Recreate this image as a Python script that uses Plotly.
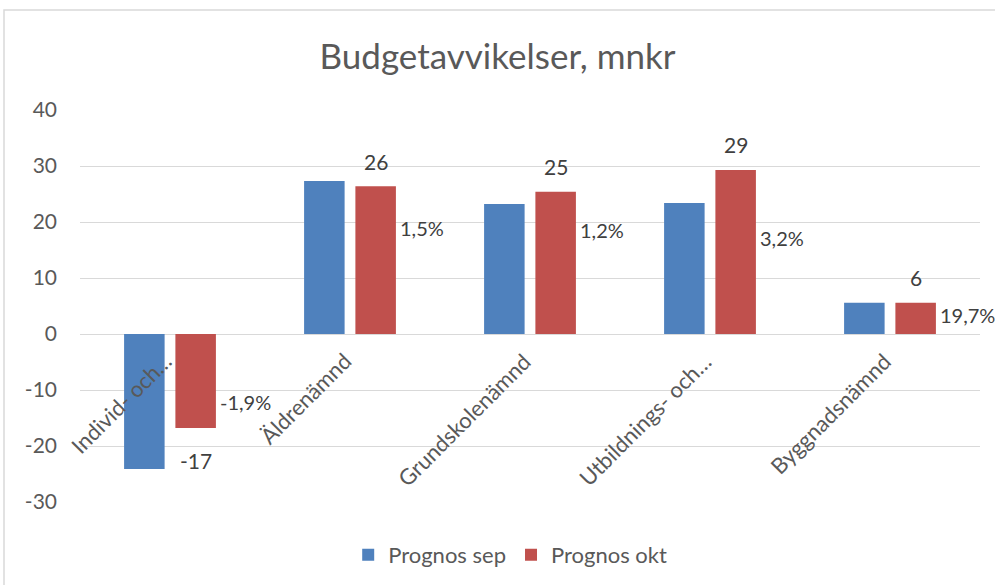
import plotly.graph_objects as go

categories = ["Individ- och…", "Äldrenämnd", "Grundskolenämnd", "Utbildnings- och…", "Byggnadsnämnd"]
prognos_sep = [-24.1, 27.3, 23.2, 23.4, 5.6]
prognos_okt = [-16.8, 26.4, 25.4, 29.3, 5.6]
pct_labels = ["-1,9%", "1,5%", "1,2%", "3,2%", "19,7%"]
y_ticks = [-30, -20, -10, 0, 10, 20, 30, 40]
y_tick_labels = ["-30", "-20", "-10", "0", "10", "20", "30", "40"]

# label placement (layout only)
pct_label_y = [-12.1, 18.9, 18.6, 17.1, 3.4]

BLUE = "#4F81BD"
RED = "#C0504D"
TXT = "#595959"
FONT = "Lato"

fig = go.Figure()
fig.add_trace(go.Bar(x=categories, y=prognos_sep, name="Prognos sep",
                     marker=dict(color=BLUE, line=dict(width=0))))
fig.add_trace(go.Bar(x=categories, y=prognos_okt, name="Prognos okt",
                     marker=dict(color=RED, line=dict(width=0))))

annotations = []
for c, v in zip(categories, prognos_okt):
    annotations.append(dict(x=c, y=v, xref="x", yref="y", text=str(round(v)),
                            showarrow=False, xshift=26, yshift=25 if v >= 0 else -32,
                            yanchor="middle", font=dict(size=21, color="#404040", family=FONT)))
for c, t, py in zip(categories, pct_labels, pct_label_y):
    annotations.append(dict(x=c, y=py, xref="x", yref="y", text=t, showarrow=False,
                            xanchor="left", xshift=48, yanchor="middle",
                            font=dict(size=20, color="#404040", family=FONT)))
for c in categories:
    annotations.append(dict(x=c, y=0, xref="x", yref="y", text=c, showarrow=False,
                            textangle=-45, xanchor="right", yanchor="top",
                            xshift=9, yshift=-11,
                            font=dict(size=22, color=TXT, family=FONT)))

fig.update_layout(
    width=995, height=585,
    margin=dict(l=80, r=15, t=110, b=83, autoexpand=False),
    paper_bgcolor="white", plot_bgcolor="white",
    title=dict(text="Budgetavvikelser, mnkr", x=0.5, xanchor="center",
               y=1 - 57 / 585, yanchor="middle",
               font=dict(size=35, color=TXT, family=FONT)),
    barmode="group", bargap=0.43, bargroupgap=0.21,
    showlegend=True,
    legend=dict(orientation="h", x=0.478, xanchor="center", y=-0.135, yanchor="middle",
                font=dict(size=22, color=TXT, family=FONT), itemwidth=30,
                traceorder="normal"),
    annotations=annotations,
    font=dict(family=FONT, color=TXT),
)
fig.update_xaxes(range=[-0.5, len(categories) - 0.5], showticklabels=False,
                 showgrid=False, showline=False, zeroline=False)
fig.update_yaxes(range=[-30, 40], tickvals=y_ticks, ticktext=y_tick_labels,
                 showgrid=True, gridcolor="#D9D9D9",
                 gridwidth=1, zeroline=True, zerolinecolor="#D9D9D9", zerolinewidth=1,
                 showline=False, ticks="", ticklabelstandoff=22,
                 tickfont=dict(size=21, color=TXT, family=FONT))
fig.add_shape(type="rect", xref="paper", yref="paper",
              x0=-(80 - 4) / 900, x1=1.2, y0=-0.5, y1=(502 - 10) / 392,
              line=dict(color="#D9D9D9", width=1.5), fillcolor="rgba(0,0,0,0)", layer="below")

fig.write_html("out.html", config={"displayModeBar": False},
               post_script="document.body.style.margin='0';document.body.style.overflow='hidden';")
